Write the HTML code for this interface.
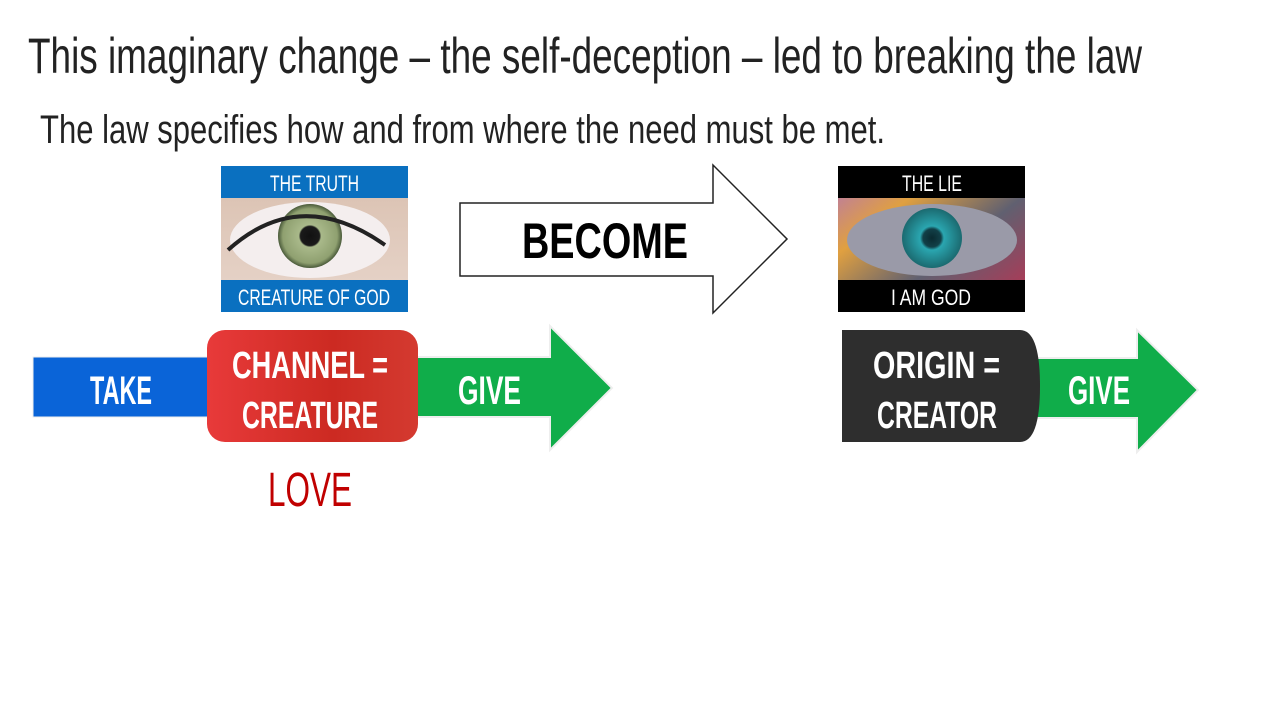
<!DOCTYPE html>
<html><head><meta charset="utf-8"><style>
html,body{margin:0;padding:0;background:#fff;width:1280px;height:720px;overflow:hidden}
svg{display:block}
text{font-family:"Liberation Sans Narrow","Liberation Sans",sans-serif}
</style></head><body>
<svg width="1280" height="720" viewBox="0 0 1280 720" xmlns="http://www.w3.org/2000/svg">
<defs>
<radialGradient id="iris" cx="0.5" cy="0.5" r="0.5"><stop offset="0" stop-color="#111"/><stop offset="0.3" stop-color="#1a1a1a"/><stop offset="0.35" stop-color="#a9b98a"/><stop offset="0.85" stop-color="#8fa070"/><stop offset="1" stop-color="#4a5a3a"/></radialGradient>
<radialGradient id="iris2" cx="0.5" cy="0.5" r="0.5"><stop offset="0" stop-color="#0a2a30"/><stop offset="0.3" stop-color="#124048"/><stop offset="0.4" stop-color="#2aa6b0"/><stop offset="1" stop-color="#1b6a70"/></radialGradient>
<linearGradient id="skin" x1="0" y1="0" x2="0" y2="1"><stop offset="0" stop-color="#d9bfae"/><stop offset="1" stop-color="#e8d6cc"/></linearGradient>
<linearGradient id="colorful" x1="0" y1="0" x2="1" y2="1"><stop offset="0" stop-color="#b070c0"/><stop offset="0.3" stop-color="#e0a040"/><stop offset="0.6" stop-color="#606070"/><stop offset="1" stop-color="#c03050"/></linearGradient>
<linearGradient id="red" x1="0" y1="0" x2="1" y2="0"><stop offset="0" stop-color="#e83a3a"/><stop offset="0.6" stop-color="#cc2a22"/><stop offset="1" stop-color="#d43a30"/></linearGradient>
</defs>

<text x="28" y="73" font-size="50" textLength="1114" lengthAdjust="spacingAndGlyphs" fill="#222">This imaginary change – the self-deception – led to breaking the law</text>
<text x="40" y="143" font-size="40" textLength="845" lengthAdjust="spacingAndGlyphs" fill="#222">The law specifies how and from where the need must be met.</text>

<!-- truth image -->
<rect x="221" y="166" width="187" height="146" fill="url(#skin)"/>
<ellipse cx="310" cy="240" rx="80" ry="38" fill="#f4eeee"/>
<circle cx="310" cy="236" r="32" fill="url(#iris)"/>
<path d="M228 250 Q300 185 385 245" stroke="#222" stroke-width="4" fill="none"/>
<rect x="221" y="166" width="187" height="32" fill="#0a70c0"/>
<rect x="221" y="280" width="187" height="32" fill="#0a70c0"/>
<text x="270" y="191" font-size="22" fill="#fff" textLength="89" lengthAdjust="spacingAndGlyphs">THE TRUTH</text>
<text x="238" y="305" font-size="22" fill="#fff" textLength="152" lengthAdjust="spacingAndGlyphs">CREATURE OF GOD</text>

<!-- become arrow -->
<path d="M460 203 H713 V165 L787 239 L713 313 V276 H460 Z" fill="#fff" stroke="#222" stroke-width="1.5"/>
<text x="522" y="258" font-size="50" font-weight="bold" fill="#000" textLength="166" lengthAdjust="spacingAndGlyphs">BECOME</text>

<!-- lie image -->
<rect x="838" y="166" width="187" height="146" fill="url(#colorful)"/>
<ellipse cx="932" cy="240" rx="85" ry="36" fill="#9a9aa8"/>
<circle cx="932" cy="238" r="30" fill="url(#iris2)"/>
<rect x="838" y="166" width="187" height="32" fill="#000"/>
<rect x="838" y="280" width="187" height="32" fill="#000"/>
<text x="902" y="191" font-size="22" fill="#fff" textLength="60" lengthAdjust="spacingAndGlyphs">THE LIE</text>
<text x="891" y="305" font-size="22" fill="#fff" textLength="80" lengthAdjust="spacingAndGlyphs">I AM GOD</text>

<!-- left flow -->
<rect x="33" y="357" width="182" height="60" fill="#0a64d8" stroke="#eee" stroke-width="1"/>
<path d="M410 357 H550 V326 L612 388 L550 450 V417 H410 Z" fill="#10ad4a" stroke="#eee" stroke-width="2"/>
<rect x="207" y="330" width="211" height="112" rx="18" fill="url(#red)"/>
<text x="90" y="404" font-size="40" font-weight="bold" fill="#fff" textLength="62" lengthAdjust="spacingAndGlyphs">TAKE</text>
<text x="232" y="378" font-size="38" font-weight="bold" fill="#fff" textLength="156" lengthAdjust="spacingAndGlyphs">CHANNEL =</text>
<text x="242" y="428" font-size="38" font-weight="bold" fill="#fff" textLength="136" lengthAdjust="spacingAndGlyphs">CREATURE</text>
<text x="458" y="404" font-size="40" font-weight="bold" fill="#fff" textLength="63" lengthAdjust="spacingAndGlyphs">GIVE</text>
<text x="268" y="506" font-size="48" fill="#c00000" textLength="84" lengthAdjust="spacingAndGlyphs">LOVE</text>

<!-- right flow -->
<path d="M1025 358 H1137 V330 L1198 390 L1137 452 V418 H1025 Z" fill="#10ad4a" stroke="#eee" stroke-width="2"/>
<path d="M842 330 H1020 Q1040 330 1040 386 Q1040 442 1020 442 H842 Z" fill="#2e2e2e"/>
<text x="873" y="378" font-size="38" font-weight="bold" fill="#fff" textLength="127" lengthAdjust="spacingAndGlyphs">ORIGIN =</text>
<text x="877" y="428" font-size="38" font-weight="bold" fill="#fff" textLength="120" lengthAdjust="spacingAndGlyphs">CREATOR</text>
<text x="1068" y="404" font-size="40" font-weight="bold" fill="#fff" textLength="62" lengthAdjust="spacingAndGlyphs">GIVE</text>
</svg>
</body></html>
